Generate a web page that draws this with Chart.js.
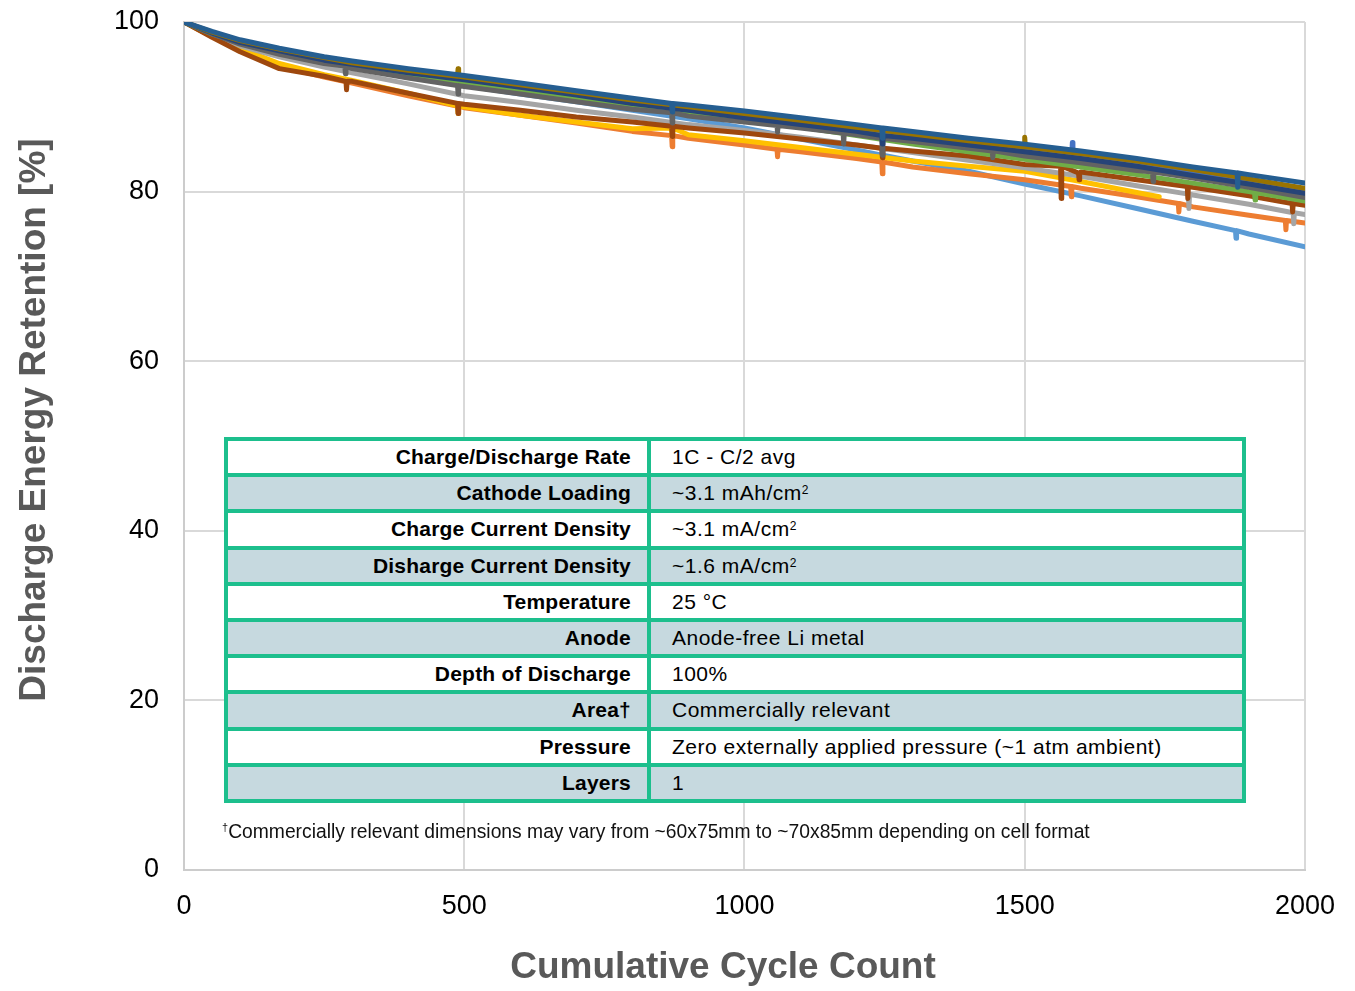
<!DOCTYPE html>
<html>
<head>
<meta charset="utf-8">
<script src="https://cdn.jsdelivr.net/npm/chart.js@4.4.1/dist/chart.umd.min.js"></script>
<style>
  html, body { margin: 0; padding: 0; background: #fff; }
  #wrap { position: relative; width: 1355px; height: 991px; }
  #specs {
    position: absolute; left: 224px; top: 437px;
    display: grid; grid-template-columns: 419px 591px;
    grid-template-rows: repeat(10, 32.2px);
    gap: 4px; padding: 4px; background: #1DBF8D;
    font-family: "Liberation Sans", Arial, sans-serif; font-size: 21px; color: #000;
  }
  #specs div { display: flex; align-items: center; background: #fff; white-space: nowrap; }
  #specs div.k { justify-content: flex-end; padding-right: 16px; font-weight: bold; letter-spacing: 0.2px; }
  #specs div.v { padding-left: 21px; letter-spacing: 0.5px; }
  #specs div.alt { background: #C6D9DF; }
  #specs sup { font-size: 12px; position: relative; top: -3px; }
  #note {
    position: absolute; left: 222px; top: 821px;
    font-family: "Liberation Sans", Arial, sans-serif;
    font-size: 19.3px; color: #111; white-space: nowrap;
  }
  #note sup { font-size: 11px; }
</style>
</head>
<body>
<div id="wrap">
  <canvas id="retentionChart" width="1355" height="991"></canvas>
  <div id="specs"></div>
  <div id="note"><sup>†</sup>Commercially relevant dimensions may vary from ~60x75mm to ~70x85mm depending on cell format</div>
</div>
<script>
const cycles = [0, 50, 100, 170, 250, 300, 400, 500, 600, 700, 800, 900, 1000, 1100, 1200, 1300, 1400, 1500, 1600, 1700, 1800, 1900, 2000];

// retention [%] per cell
const cellDarkBlue  = [100, 98.9, 97.9, 96.9, 95.9, 95.4, 94.5, 93.7, 92.8, 91.9, 91.0, 90.2, 89.5, 88.7, 87.9, 87.1, 86.3, 85.6, 84.8, 83.9, 82.9, 82.0, 81.0];
const cellOlive     = [100, 98.8, 97.8, 96.8, 95.8, 95.2, 94.3, 93.5, 92.6, 91.7, 90.8, 90.0, 89.2, 88.4, 87.6, 86.8, 86.0, 85.3, 84.5, 83.6, 82.6, 81.5, 80.4];
const cellNavy      = [100, 98.7, 97.6, 96.6, 95.5, 95.0, 94.0, 93.2, 92.3, 91.4, 90.4, 89.6, 88.7, 87.9, 87.1, 86.3, 85.5, 84.7, 83.9, 83.0, 81.9, 80.9, 79.8];
const cellBlue      = [100, 98.7, 97.7, 96.7, 95.6, 95.1, 94.1, 93.3, 92.4, 91.5, 90.6, 89.8, 89.0, 88.2, 87.3, 86.5, 85.7, 84.9, 84.1, 83.2, 82.2, 81.2, 80.2];
const cellDarkGray  = [100, 98.6, 97.4, 96.2, 95.1, 94.5, 93.4, 92.4, 91.5, 90.6, 89.7, 88.9, 88.2, 87.5, 86.7, 85.9, 85.1, 84.2, 83.4, 82.5, 81.6, 80.5, 79.3];
const cellGreen     = [100, 98.6, 97.5, 96.4, 95.3, 94.8, 93.8, 92.9, 92.0, 91.0, 90.0, 89.2, 88.4, 87.6, 86.6, 85.6, 84.7, 83.8, 82.9, 82.0, 81.0, 80.0, 78.9];
const cellBrown     = [100, 98.2, 96.5, 94.5, 93.6, 93.0, 91.6, 90.3, 89.6, 88.8, 88.2, 87.5, 86.9, 86.2, 85.5, 84.8, 84.2, 83.2, 82.3, 81.4, 80.5, 79.5, 78.4];
const cellLightGray = [100, 98.5, 97.2, 95.9, 94.7, 94.0, 92.7, 91.3, 90.5, 89.6, 88.8, 87.9, 87.2, 86.4, 85.5, 84.6, 83.7, 82.8, 81.8, 80.7, 79.6, 78.5, 77.3];
const cellOrange    = [100, 98.3, 96.8, 94.8, 93.5, 92.8, 91.3, 89.9, 89.0, 88.1, 87.1, 86.3, 85.5, 84.7, 83.9, 82.9, 82.1, 81.4, 80.4, 79.4, 78.2, 77.2, 76.3];
const cellLightBlue = [100, 98.6, 97.5, 96.3, 95.2, 94.6, 93.5, 92.5, 91.5, 90.6, 89.6, 88.6, 87.5, 86.2, 84.9, 83.6, 82.4, 80.9, 79.5, 78.0, 76.5, 75.0, 73.5];
const cellYellow    = [100, 98.3, 96.9, 95.1, 93.8, 93.1, 91.6, 90.0, 89.0, 88.2, 87.4, 86.7, 86.0, 85.2, 84.4, 83.6, 83.0, 82.4, 81.2, 79.9, null, null, null];

// short glitches seen in the curves: [cycle, level around it, glitch level]
const dipsDarkBlue  = [[871, 90.4, 89.4], [1246, 87.5, 86.3], [1880, 82.2, 80.5]];
const dipsOlive     = [[489, 93.6, 94.5], [1500, 85.3, 86.4]];
const dipsNavy      = [[1246, 86.6, 85.6]];
const dipsBlue      = [[1585, 84.4, 85.8]];
const dipsDarkGray  = [[288, 94.8, 93.9], [489, 92.5, 91.5], [871, 89.3, 88.1], [1059, 87.8, 87.0], [1177, 86.9, 85.6], [1246, 86.3, 84.3], [1443, 84.8, 84.0], [1729, 82.3, 81.2]];
const dipsGreen     = [[1911, 79.9, 79.0]];
const dipsBrown     = [[290, 93.0, 92.0], [489, 90.4, 89.2], [871, 87.7, 86.5], [1246, 85.1, 84.0], [1565, 83.0, 79.2], [1597, 82.2, 81.4], [1791, 80.6, 79.2], [1978, 78.6, 77.6]];
const dipsLightGray = [[1793, 79.7, 78.0], [1980, 77.5, 76.2]];
const dipsOrange    = [[871, 86.6, 85.3], [1059, 85.0, 84.1], [1246, 83.5, 82.1], [1583, 80.6, 79.4], [1775, 78.6, 77.6], [1966, 76.6, 75.5]];
const dipsLightBlue = [[1246, 84.3, 83.4], [1877, 75.4, 74.5]];
const dipsYellow    = [[489, 90.1, 89.2], [871, 87.5, 86.6]];
const yellowLast    = [1740, 79.4];

// spec table
const specKeys = ["Charge/Discharge Rate", "Cathode Loading", "Charge Current Density", "Disharge Current Density", "Temperature", "Anode", "Depth of Discharge", "Area†", "Pressure", "Layers"];
const specVals = ["1C - C/2 avg", "~3.1 mAh/cm<sup>2</sup>", "~3.1 mA/cm<sup>2</sup>", "~1.6 mA/cm<sup>2</sup>", "25 °C", "Anode-free Li metal", "100%", "Commercially relevant", "Zero externally applied pressure (~1 atm ambient)", "1"];

const specs = document.getElementById("specs");
specKeys.forEach((k, i) => {
  const alt = i % 2 === 1 ? " alt" : "";
  specs.insertAdjacentHTML("beforeend", `<div class="k${alt}">${k}</div><div class="v${alt}">${specVals[i]}</div>`);
});

function buildPoints(values, dips, last) {
  const pts = [];
  cycles.forEach((c, i) => { if (values[i] !== null) pts.push({ x: c, y: values[i] }); });
  dips.forEach(([c, base, low]) => {
    pts.push({ x: c - 1, y: base }, { x: c, y: low }, { x: c + 1, y: base });
  });
  if (last) pts.push({ x: last[0], y: last[1] });
  return pts.sort((a, b) => a.x - b.x);
}

function line(values, dips, color, last) {
  return {
    data: buildPoints(values, dips, last),
    borderColor: color,
    backgroundColor: color,
    borderWidth: 5,
    borderJoinStyle: "round",
    borderCapStyle: "round",
    pointRadius: 0,
    tension: 0,
    fill: false,
  };
}

// axis titles drawn where the original places them
const axisTitles = {
  id: "axisTitles",
  afterDraw(chart) {
    const ctx = chart.ctx;
    ctx.save();
    ctx.font = 'bold 37px "Liberation Sans", Arial, sans-serif';
    ctx.fillStyle = "#595959";
    ctx.textAlign = "center";
    ctx.textBaseline = "middle";
    ctx.fillText("Cumulative Cycle Count", 723, 968);
    ctx.translate(35, 420);
    ctx.rotate(-Math.PI / 2);
    ctx.fillText("Discharge Energy Retention [%]", 0, 0);
    ctx.restore();
  },
};

const tickFont = { family: '"Liberation Sans", Arial, sans-serif', size: 27 };

new Chart(document.getElementById("retentionChart").getContext("2d"), {
  type: "line",
  data: {
    datasets: [
      line(cellDarkBlue, dipsDarkBlue, "#255E91"),
      line(cellOlive, dipsOlive, "#997300"),
      line(cellNavy, dipsNavy, "#264478"),
      line(cellBlue, dipsBlue, "#4472C4"),
      line(cellDarkGray, dipsDarkGray, "#636363"),
      line(cellGreen, dipsGreen, "#70AD47"),
      line(cellBrown, dipsBrown, "#9E480E"),
      line(cellLightGray, dipsLightGray, "#A5A5A5"),
      line(cellYellow, dipsYellow, "#FFC000", yellowLast),
      line(cellOrange, dipsOrange, "#ED7D31"),
      line(cellLightBlue, dipsLightBlue, "#5B9BD5"),
    ],
  },
  options: {
    responsive: false,
    animation: false,
    devicePixelRatio: 1,
    layout: { padding: { top: 22, right: 47, left: 0, bottom: 0 } },
    plugins: { legend: { display: false }, tooltip: { enabled: false } },
    scales: {
      x: {
        type: "linear",
        min: 0,
        max: 2000,
        ticks: { stepSize: 500, font: tickFont, color: "#000", padding: 20, callback: (v) => String(v) },
        grid: { color: "#D9D9D9", lineWidth: 2, drawTicks: false },
        border: { color: "#CCCCCC", width: 2 },
        afterFit: (scale) => { scale.height = 121; },
      },
      y: {
        min: 0,
        max: 100,
        ticks: { stepSize: 20, font: tickFont, color: "#000", padding: 25, callback: (v) => String(v) },
        grid: { color: "#D9D9D9", lineWidth: 2, drawTicks: false },
        border: { color: "#CCCCCC", width: 2 },
        afterFit: (scale) => { scale.width = 184; scale.paddingTop = 0; scale.paddingBottom = 0; },
      },
    },
  },
  plugins: [axisTitles],
});
</script>
</body>
</html>
